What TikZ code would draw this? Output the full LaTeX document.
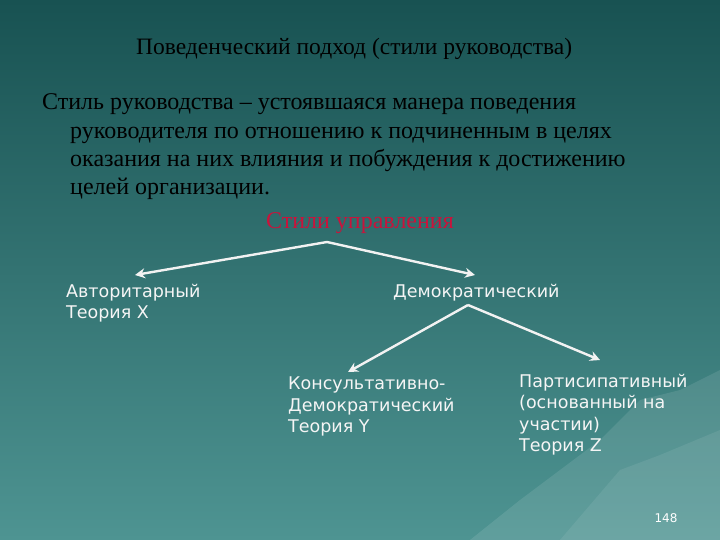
\documentclass[tikz,border=0pt]{standalone}
\usepackage{fontspec}
\setmainfont{Liberation Serif}
\newfontfamily\lab{DejaVu Sans}
\usetikzlibrary{arrows.meta}
\begin{document}
\begin{tikzpicture}[x=1pt,y=-1pt,
  body/.style={anchor=base west,inner sep=0,font=\fontsize{24}{24}\selectfont,text=black},
  lbl/.style={anchor=north west,inner sep=0,align=left,font=\lab\fontsize{17.5}{21.5}\selectfont,text=white!92!gray},
  arr/.style={draw=white!90!gray,line width=2.4pt,-{Stealth[length=10pt,width=10pt]}}]
\shade[top color={rgb,255:red,24;green,82;blue,82},bottom color={rgb,255:red,78;green,148;blue,146}] (0,0) rectangle (720,540);
\useasboundingbox (0,0) rectangle (720,540);
\fill[white,opacity=0.10] (470,540) -- (520,500) -- (560,470) -- (600,440) -- (640,400) -- (680,390) -- (720,370) -- (720,540) -- cycle;
\fill[white,opacity=0.08] (560,540) -- (620,470) -- (660,455) -- (720,430) -- (720,540) -- cycle;
\node[anchor=base west,inner sep=0,font=\fontsize{23.5}{24}\selectfont] (title) at (136,55) {Поведенческий подход (стили руководства)};
\node[body] (l1) at (42,110) {Стиль руководства – устоявшаяся манера поведения};
\node[body] (l2) at (70,139) {руководителя по отношению к подчиненным в целях};
\node[body] (l3) at (70,167) {оказания на них влияния и побуждения к достижению};
\node[body] (l4) at (70,195) {целей  организации.};
\node[anchor=base,inner sep=0,font=\fontsize{24}{24}\selectfont,text={rgb,255:red,200;green,20;blue,60}] (st) at (360,229) {Стили управления};
\coordinate (s) at (327,242);
\node[lbl] (a) at (66,284) {Авторитарный\\Теория X};
\node[lbl] (d) at (393,284) {Демократический};
\coordinate (ae) at (135,275);
\coordinate (de) at (475,275);
\draw[arr] (s) -- (ae);
\draw[arr] (s) -- (de);
\coordinate (ds) at (468,305);
\node[lbl] (k) at (288,377) {Консультативно-\\Демократический\\Теория Y};
\node[lbl] (p) at (519,374) {Партисипативный\\(основанный на\\ участии)\\Теория Z};
\draw[arr] (ds) -- (348,372) coordinate (ke);
\draw[arr] (ds) -- (600,360) coordinate (pe);
\node[font=\lab\fontsize{12}{12}\selectfont,text=white] (n) at (666,518) {148};
\end{tikzpicture}
\end{document}
